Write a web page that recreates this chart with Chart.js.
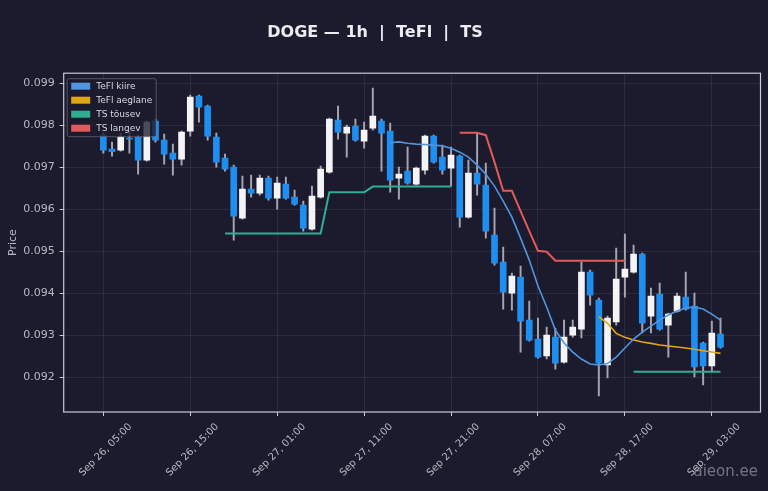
<!DOCTYPE html>
<html>
<head>
<meta charset="utf-8">
<script src="https://cdn.jsdelivr.net/npm/chart.js@4.4.1/dist/chart.umd.min.js"></script>
<style>
  html, body { margin: 0; padding: 0; background: #1b1b2d; }
</style>
</head>
<body>
<canvas id="chart10" width="768" height="491"></canvas>
<script>
// hourly candles, index 0 = Sep 26, 05:00
const chartTitle = 'DOGE — 1h  |  TeFl  |  TS';
const tickHours = [0, 10, 20, 30, 40, 50, 60, 70];
const tickLabels = ['Sep 26, 05:00', 'Sep 26, 15:00', 'Sep 27, 01:00', 'Sep 27, 11:00',
    'Sep 27, 21:00', 'Sep 28, 07:00', 'Sep 28, 17:00', 'Sep 29, 03:00'];

const open = [
    0.097762, 0.097429, 0.097405, 0.097690, 0.097714, 0.097167, 0.098095, 0.097643, 0.097333, 0.097190,
    0.097857, 0.098690, 0.098452, 0.097714, 0.097214, 0.097000, 0.095786, 0.096476, 0.096381, 0.096738,
    0.096262, 0.096595, 0.096286, 0.096095, 0.095524, 0.096286, 0.096881, 0.098119, 0.097810, 0.097976,
    0.097619, 0.097929, 0.098095, 0.097857, 0.096738, 0.096905, 0.096595, 0.096929, 0.097738, 0.097238,
    0.096976, 0.097262, 0.095810, 0.096857, 0.096571, 0.095381, 0.094738, 0.094000, 0.094381, 0.093357,
    0.092905, 0.092500, 0.092952, 0.092357, 0.093000, 0.093143, 0.094500, 0.093833, 0.092286, 0.093310,
    0.094381, 0.094500, 0.094929, 0.093452, 0.093976, 0.093238, 0.093571, 0.093905, 0.093690, 0.092810,
    0.092262, 0.093024];
const high = [
    0.097810, 0.097595, 0.097810, 0.097857, 0.097762, 0.098095, 0.098143, 0.097786, 0.097548, 0.097857,
    0.098714, 0.098714, 0.098476, 0.097810, 0.097310, 0.097048, 0.096786, 0.096810, 0.096810, 0.096786,
    0.096762, 0.096762, 0.096452, 0.096190, 0.096548, 0.097024, 0.098167, 0.098452, 0.098000, 0.098143,
    0.098071, 0.098881, 0.098143, 0.098048, 0.097000, 0.097476, 0.097000, 0.097762, 0.097762, 0.097524,
    0.097476, 0.097286, 0.097167, 0.097810, 0.097095, 0.096024, 0.095095, 0.094476, 0.094643, 0.093810,
    0.093405, 0.093190, 0.093167, 0.093357, 0.093357, 0.094738, 0.094548, 0.093881, 0.093452, 0.095071,
    0.095405, 0.095143, 0.094952, 0.094119, 0.094238, 0.093524, 0.094000, 0.094500, 0.094000, 0.092833,
    0.093333, 0.093405];
const low = [
    0.097333, 0.097262, 0.097381, 0.097333, 0.096833, 0.097143, 0.097595, 0.097071, 0.096810, 0.097048,
    0.097738, 0.098071, 0.097643, 0.097000, 0.096905, 0.095262, 0.095762, 0.096286, 0.096333, 0.096214,
    0.096000, 0.096238, 0.096095, 0.095476, 0.095500, 0.096262, 0.096857, 0.097667, 0.097238, 0.097619,
    0.097452, 0.097881, 0.096905, 0.096405, 0.096238, 0.096595, 0.096571, 0.096833, 0.097095, 0.096833,
    0.096548, 0.095571, 0.095786, 0.096333, 0.095310, 0.094667, 0.093619, 0.093595, 0.092595, 0.092857,
    0.092452, 0.092429, 0.092190, 0.092333, 0.092952, 0.092929, 0.093714, 0.091548, 0.091976, 0.093238,
    0.093905, 0.094476, 0.093048, 0.093048, 0.093119, 0.092476, 0.093548, 0.093595, 0.092000, 0.091810,
    0.092119, 0.092690];
const close = [
    0.097405, 0.097369, 0.097714, 0.097667, 0.097167, 0.098071, 0.097643, 0.097310, 0.097190, 0.097833,
    0.098667, 0.098429, 0.097738, 0.097119, 0.096952, 0.095833, 0.096476, 0.096381, 0.096738, 0.096262,
    0.096619, 0.096262, 0.096119, 0.095548, 0.096310, 0.096952, 0.098143, 0.097833, 0.097952, 0.097643,
    0.097881, 0.098214, 0.097810, 0.096690, 0.096833, 0.096619, 0.096976, 0.097738, 0.097119, 0.096929,
    0.097286, 0.095810, 0.096857, 0.096595, 0.095476, 0.094714, 0.094024, 0.094405, 0.093333, 0.092881,
    0.092476, 0.093000, 0.092333, 0.092952, 0.093190, 0.094500, 0.093952, 0.092333, 0.093405, 0.094333,
    0.094571, 0.094929, 0.093286, 0.093929, 0.093143, 0.093500, 0.093929, 0.093619, 0.092238, 0.092262,
    0.093048, 0.092714];

// indicator lines: first candle index + values
const tefiKiireStart = 33;
const tefiKiire = [
    0.097583, 0.097602, 0.097571, 0.097548, 0.097540, 0.097524, 0.097507, 0.097452, 0.097357, 0.097238,
    0.097048, 0.096833, 0.096548, 0.096190, 0.095810, 0.095310, 0.094786, 0.094167, 0.093667, 0.093119,
    0.092810, 0.092595, 0.092429, 0.092310, 0.092286, 0.092321, 0.092476, 0.092690, 0.092905, 0.093071,
    0.093214, 0.093357, 0.093476, 0.093571, 0.093643, 0.093667, 0.093619, 0.093500, 0.093357];
const tefiAeglaneStart = 57;
const tefiAeglane = [
    0.093436, 0.093279, 0.093040, 0.092945, 0.092881, 0.092833, 0.092802, 0.092762, 0.092738, 0.092714,
    0.092690, 0.092660, 0.092626, 0.092595, 0.092564];
const tsTousevStart1 = 14;
const tsTousev1 = [
    0.095421, 0.095421, 0.095421, 0.095421, 0.095421, 0.095421, 0.095421, 0.095421, 0.095421, 0.095421,
    0.095421, 0.095421, 0.096400, 0.096400, 0.096400, 0.096400, 0.096400, 0.096536, 0.096536, 0.096536,
    0.096536, 0.096536, 0.096536, 0.096536, 0.096536, 0.096536, 0.096536];
const tsTousevStart2 = 61;
const tsTousev2 = [
    0.092126, 0.092126, 0.092126, 0.092126, 0.092126, 0.092126, 0.092126, 0.092126, 0.092126, 0.092126,
    0.092126];
const tsLangevStart = 41;
const tsLangev = [
    0.097817, 0.097817, 0.097817, 0.097762, 0.097119, 0.096436, 0.096436, 0.095952, 0.095476, 0.095007,
    0.094983, 0.094769, 0.094769, 0.094769, 0.094769, 0.094769, 0.094769, 0.094769, 0.094769, 0.094769];

const bgColor = '#1b1b2d';
const gridColor = 'rgba(255,255,255,0.07)';
const frameColor = '#c9c9d3';
const textColor = '#b9b9c4';
const upColor = '#f4f4f6';
const downColor = '#1e8ff0';

function segment(start, values) {
    return values.map((v, i) => ({x: start + i, y: v}));
}

const hours = open.map((_, i) => i);
const bodyColors = open.map((o, i) => close[i] >= o ? upColor : downColor);

const chartPlugins = {
    id: 'chartPlugins',
    beforeDraw(chart) {
        const ctx = chart.ctx;
        ctx.save();
        ctx.fillStyle = bgColor;
        ctx.fillRect(0, 0, chart.width, chart.height);
        ctx.restore();
    },
    afterDraw(chart) {
        const {ctx, chartArea} = chart;
        ctx.save();
        // title (a little left of the canvas centre, like the source)
        ctx.font = 'bold 16px "DejaVu Sans"';
        ctx.fillStyle = '#ececf2';
        ctx.textAlign = 'center';
        ctx.textBaseline = 'middle';
        ctx.fillText(chartTitle, 375, 33);

        // frame round the plot
        ctx.strokeStyle = frameColor;
        ctx.lineWidth = 1.2;
        ctx.strokeRect(chartArea.left, chartArea.top, chartArea.right - chartArea.left, chartArea.bottom - chartArea.top);

        // legend in the upper left corner
        const lines = chart.data.datasets.filter(d => d.type === 'line');
        const lx = chartArea.left + 3.5;
        const ly = chartArea.top + 5.5;
        ctx.fillStyle = 'rgba(27,27,45,0.78)';
        ctx.strokeStyle = 'rgba(130,130,150,0.55)';
        ctx.lineWidth = 1;
        ctx.beginPath();
        ctx.roundRect(lx, ly, 89, 58, 2);
        ctx.fill();
        ctx.stroke();
        ctx.font = '9px "DejaVu Sans"';
        ctx.textAlign = 'left';
        ctx.textBaseline = 'middle';
        lines.forEach((d, i) => {
            const rowY = ly + 7.5 + i * 14;
            ctx.fillStyle = d.borderColor;
            ctx.fillRect(lx + 4, rowY - 3.5, 19, 7);
            ctx.fillStyle = '#d8d8e0';
            ctx.fillText(d.label, lx + 29, rowY);
        });

        // watermark
        ctx.font = '15px "DejaVu Sans"';
        ctx.textAlign = 'right';
        ctx.textBaseline = 'alphabetic';
        ctx.fillStyle = 'rgba(200,200,210,0.5)';
        ctx.fillText('aieon.ee', 758, 476);
        ctx.restore();
    }
};

new Chart(document.getElementById('chart10'), {
    type: 'bar',
    data: {
        labels: hours,
        datasets: [
            {
                type: 'line',
                label: 'TeFl kiire',
                data: segment(tefiKiireStart, tefiKiire),
                borderColor: '#4f95e0',
                borderWidth: 1.6,
                pointRadius: 0,
                order: 1,
            },
            {
                type: 'line',
                label: 'TeFl aeglane',
                data: segment(tefiAeglaneStart, tefiAeglane),
                borderColor: '#e2a514',
                borderWidth: 1.6,
                pointRadius: 0,
                order: 1,
            },
            {
                type: 'line',
                label: 'TS tõusev',
                data: segment(tsTousevStart1, tsTousev1).concat([{x: 50, y: null}], segment(tsTousevStart2, tsTousev2)),
                borderColor: '#2fae92',
                borderWidth: 2,
                pointRadius: 0,
                spanGaps: false,
                order: 1,
            },
            {
                type: 'line',
                label: 'TS langev',
                data: segment(tsLangevStart, tsLangev),
                borderColor: '#e35a5a',
                borderWidth: 2,
                pointRadius: 0,
                order: 1,
            },
            {
                label: 'wick',
                data: low.map((l, i) => [l, high[i]]),
                backgroundColor: '#a4a4b2',
                barThickness: 1.3,
                grouped: false,
                order: 3,
            },
            {
                label: 'body',
                data: open.map((o, i) => [o, close[i]]),
                backgroundColor: bodyColors,
                barThickness: 6,
                grouped: false,
                order: 2,
            },
        ],
    },
    options: {
        responsive: false,
        animation: false,
        devicePixelRatio: 1,
        layout: {
            padding: {left: 0, right: 7.5, top: 73.2, bottom: 0},
        },
        plugins: {
            legend: {display: false},
            tooltip: {enabled: false},
            title: {display: false},
        },
        scales: {
            x: {
                type: 'linear',
                min: -4.56,
                max: 75.6,
                offset: false,
                afterBuildTicks: (scale) => {
                    scale.ticks = tickHours.map(v => ({value: v}));
                },
                afterFit: (scale) => {
                    scale.height = 79;
                },
                ticks: {
                    callback: (value, index) => tickLabels[index],
                    minRotation: 45,
                    maxRotation: 45,
                    labelOffset: 27,
                    color: textColor,
                    font: {family: 'DejaVu Sans', size: 10},
                    padding: 5,
                },
                grid: {
                    color: gridColor,
                    tickColor: frameColor,
                    tickLength: 4,
                    offset: false,
                },
                border: {display: false},
            },
            y: {
                type: 'linear',
                min: 0.091167,
                max: 0.099238,
                afterFit: (scale) => {
                    scale.width = 63.7;
                },
                ticks: {
                    stepSize: 0.001,
                    includeBounds: false,
                    callback: (v) => v.toFixed(3),
                    color: textColor,
                    font: {family: 'DejaVu Sans', size: 11},
                    padding: 5,
                },
                grid: {
                    color: gridColor,
                    tickColor: frameColor,
                    tickLength: 4,
                },
                border: {display: false},
                title: {
                    display: true,
                    text: 'Price',
                    color: textColor,
                    font: {family: 'DejaVu Sans', size: 11},
                    padding: {top: 7, bottom: 2},
                },
            },
        },
    },
    plugins: [chartPlugins],
});
</script>
</body>
</html>
